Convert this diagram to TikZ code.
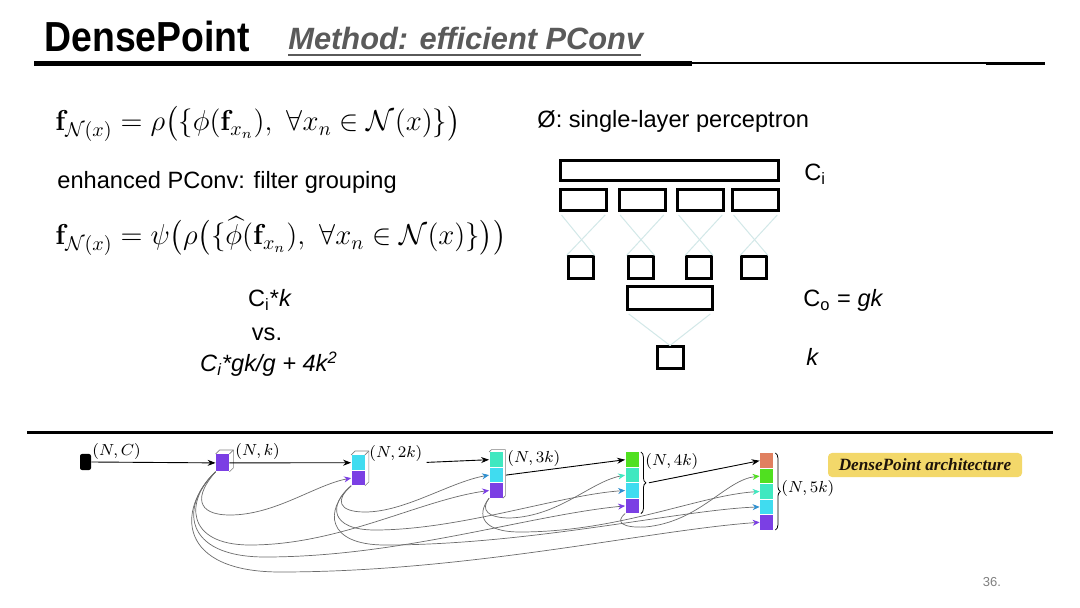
\documentclass[tikz,border=0pt]{standalone}
\usepackage[no-math]{fontspec}
\usepackage{amsmath,amssymb,graphicx}
\newfontfamily\arial{Liberation Sans}
\newfontfamily\timesf{Liberation Serif}
\usetikzlibrary{arrows.meta,decorations.pathreplacing}
\definecolor{cpurple}{HTML}{7B3FE4}
\definecolor{ccyan}{HTML}{40DCF0}
\definecolor{cteal}{HTML}{40E8C0}
\definecolor{cgreen}{HTML}{50E020}
\definecolor{csalmon}{HTML}{E08060}
\definecolor{cblue}{HTML}{3090D0}
\definecolor{cfaint}{HTML}{D2E8E8}
\definecolor{cyellow}{HTML}{F3D86A}
\definecolor{cgraytitle}{HTML}{5A5A5A}
\tikzset{
  lbl/.style={inner sep=0pt, anchor=base west},
  sans/.style={font=\arial\fontsize{11.8}{14}\selectfont},
  pbox/.style={draw=black, line width=1.5pt, inner sep=0pt, fill=white},
  faint/.style={draw=cfaint, line width=0.5pt},
  seg/.style={inner sep=0pt, minimum width=6.5pt, minimum height=7.3pt, draw=none},
  edge3d/.style={draw=gray, line width=0.3pt},
  arr/.style={line width=0.45pt, -{Stealth[length=4pt,width=3pt]}},
  dense/.style={draw=gray!85!black, line width=0.35pt},
  mlbl/.style={inner sep=0pt, anchor=west, font=\fontsize{8}{9}\selectfont},
}
\begin{document}
\begin{tikzpicture}[x=0.5pt,y=-0.5pt]
\fill[white] (0,0) rectangle (1080,608);
\useasboundingbox (0,0) rectangle (1080,608);

% ---------- title ----------
\node[lbl] (title) at (44,52) {\scalebox{0.89}[1]{\arial\bfseries\fontsize{21}{24}\selectfont DensePoint}};
\node[lbl, text=cgraytitle] (sub) at (288,50) {\arial\bfseries\itshape\fontsize{15.4}{18}\selectfont Method: efficient PConv};
\draw[cgraytitle, line width=0.9pt] (sub.base west) ++(0,5) -- ++(353,0);
\draw[black, line width=2.5pt] (34,64) -- (692,64);
\draw[black, line width=1pt] (692,63.5) -- (1045,63.5);
\draw[black, line width=1.5pt] (986,63.5) -- (1045,63.5);

% ---------- formulas ----------
\node[lbl] (eq1) at (55,131) {\fontsize{14.5}{17}\selectfont $\mathbf{f}_{\mathcal{N}(x)} = \rho\big(\{\phi(\mathbf{f}_{x_n}),\ \forall x_n \in \mathcal{N}(x)\}\big)$};
\node[lbl, sans] (enh) at (57,189) {enhanced PConv: filter grouping};
\node[lbl] (eq2) at (55,245) {\fontsize{14.5}{17}\selectfont $\mathbf{f}_{\mathcal{N}(x)} = \psi\big(\rho\big(\{\widehat{\phi}(\mathbf{f}_{x_n}),\ \forall x_n \in \mathcal{N}(x)\}\big)\big)$};

\node[inner sep=0pt, anchor=base, sans] (cmp1) at (270,307) {C\textsubscript{i}*\textit{k}};
\node[inner sep=0pt, anchor=base, sans] (cmp2) at (267,341) {vs.};
\node[inner sep=0pt, anchor=base, sans] (cmp3) at (269,372) {\itshape C\textsubscript{i}*gk/g + 4k\textsuperscript{2}};

% ---------- perceptron ----------
\node[lbl, sans] (slp) at (537,128) {Ø: single-layer perceptron};
\node[pbox, minimum width=109pt, minimum height=10pt] (big) at (669.5,171) {};
\foreach \i/\x in {1/583.5,2/642,3/700.5,4/755.5}
  \node[pbox, minimum width=23pt, minimum height=10.5pt] (g\i) at (\x,200) {};
\foreach \i/\x in {1/580.5,2/640.5,3/699,4/754}
  \node[pbox, minimum width=12.5pt, minimum height=11pt] (s\i) at (\x,268) {};
\node[pbox, minimum width=42.5pt, minimum height=11.5pt] (mid) at (669.5,298.5) {};
\node[pbox, minimum width=13pt, minimum height=11pt] (bot) at (670,358) {};
\foreach \i in {1,...,4}{
  \draw[faint, shorten <=2pt] (g\i.south west) -- (s\i.north east);
  \draw[faint, shorten <=2pt] (g\i.south east) -- (s\i.north west);
}
\draw[faint, shorten <=2pt] (mid.south west) -- (bot.north);
\draw[faint, shorten <=2pt] (mid.south east) -- (bot.north);
\node[lbl, sans] (ci) at (804,181) {C\textsubscript{i}};
\node[lbl, sans] (co) at (803,307) {C\textsubscript{o} = \textit{gk}};
\node[lbl, sans] (kk) at (806,366) {\textit{k}};

% ---------- separator ----------
\draw[black, line width=1.5pt] (27,433) -- (1053,433);

% ---------- architecture ----------
\node[fill=black, rounded corners=1pt, inner sep=0pt, minimum width=5.5pt, minimum height=8pt] (in) at (85.5,462) {};
\node[mlbl] (lin) at (92,451) {$(N,C)$};

\node[seg, fill=cpurple, minimum height=8.5pt, anchor=north] (n1) at (222.5,454) {};
\draw[edge3d] (n1.north west) -- ++(2pt,2pt) -| ([shift={(2pt,2pt)}]n1.south east) -- (n1.south east);
\draw[edge3d] (n1.north east) -- ++(2pt,2pt);
\node[mlbl] (l1) at (235,451) {$(N,k)$};

\node[seg, fill=ccyan, anchor=north] (n2a) at (358,455) {};
\node[seg, fill=cpurple, anchor=north] (n2b) at (n2a.south) {};
\draw[edge3d] (n2a.north west) -- ++(2pt,2pt) -| ([shift={(2pt,2pt)}]n2b.south east) -- (n2b.south east);
\draw[edge3d] (n2a.north east) -- ++(2pt,2pt);
\node[mlbl] (l2) at (369,454) {$(N,2k)$};

\node[seg, fill=cteal, anchor=north] (n3a) at (496,452) {};
\node[seg, fill=ccyan, anchor=north] (n3b) at (n3a.south) {};
\node[seg, fill=cpurple, anchor=north] (n3c) at (n3b.south) {};
\draw[edge3d] (n3a.north west) -- ++(1.2pt,1.2pt) -| ([shift={(1.2pt,1.2pt)}]n3c.south east) -- (n3c.south east);
\node[mlbl] (l3) at (507,458) {$(N,3k)$};

\node[seg, fill=cgreen, anchor=north] (n4a) at (632,452) {};
\node[seg, fill=cteal, anchor=north] (n4b) at (n4a.south) {};
\node[seg, fill=ccyan, anchor=north] (n4c) at (n4b.south) {};
\node[seg, fill=cpurple, anchor=north] (n4d) at (n4c.south) {};
\draw[line width=0.4pt, decorate, decoration={brace, amplitude=2.5pt}] ([xshift=1pt]n4a.north east) -- ([xshift=1pt]n4d.south east) coordinate[midway, xshift=4pt] (b4);
\node[mlbl] (l4) at (645,462) {$(N,4k)$};

\node[seg, fill=csalmon, anchor=north] (n5a) at (766.5,453) {};
\node[seg, fill=cgreen, anchor=north] (n5b) at (n5a.south) {};
\node[seg, fill=cteal, anchor=north] (n5c) at (n5b.south) {};
\node[seg, fill=ccyan, anchor=north] (n5d) at (n5c.south) {};
\node[seg, fill=cpurple, anchor=north] (n5e) at (n5d.south) {};
\draw[line width=0.4pt, decorate, decoration={brace, amplitude=2.5pt}] ([xshift=1pt]n5a.north east) -- ([xshift=1pt]n5e.south east) coordinate[midway, xshift=4pt] (b5);
\node[mlbl] (l5) at (781,488) {$(N,5k)$};

% main arrows
\draw[arr] (in.east) -- (n1.west);
\draw[arr] (n1.east) -- (n2a.west);
\draw[arr] ([xshift=2pt]l2.south east) -- (n3a.west);
\draw[arr] ([xshift=1.5pt]n3b.east) -- (n4a.west);
\draw[arr] (b4) -- (n5a.west);

% dense connections
\draw[dense, -{Stealth[length=3.5pt,width=3pt,color=cpurple]}] (n1.south west) .. controls (195,495) and (195,515) .. (230,515) .. controls (275,515) and (315,485) .. (n2b.west);
\draw[dense, -{Stealth[length=3.5pt,width=3pt,color=cpurple]}] (n1.south west) .. controls (185,500) and (185,545) .. (250,545) .. controls (340,545) and (420,500) .. (n3c.west);
\draw[dense, -{Stealth[length=3.5pt,width=3pt,color=cpurple]}] (n1.south west) .. controls (180,505) and (182,557) .. (265,557) .. controls (400,557) and (530,515) .. (n4d.west);
\draw[dense, -{Stealth[length=3.5pt,width=3pt,color=cpurple]}] (n1.south west) .. controls (176,510) and (178,572) .. (280,572) .. controls (470,572) and (650,530) .. (n5e.west);
\draw[dense, -{Stealth[length=3.5pt,width=3pt,color=cblue]}] (n2b.south west) .. controls (335,500) and (338,512) .. (365,512) .. controls (405,512) and (450,482) .. (n3b.west);
\draw[dense, -{Stealth[length=3.5pt,width=3pt,color=cblue]}] (n2b.south west) .. controls (328,505) and (330,530) .. (375,530) .. controls (460,530) and (560,495) .. (n4c.west);
\draw[dense, -{Stealth[length=3.5pt,width=3pt,color=cblue]}] (n2b.south west) .. controls (324,510) and (326,545) .. (385,545) .. controls (530,545) and (680,510) .. (n5d.west);
\draw[dense, -{Stealth[length=3.5pt,width=3pt,color=cteal]}] (n3c.south west) .. controls (480,510) and (488,518) .. (510,518) .. controls (560,516) and (590,482) .. (n4b.west);
\draw[dense, -{Stealth[length=3.5pt,width=3pt,color=cteal]}] (n3c.south west) .. controls (476,515) and (482,532) .. (520,532) .. controls (620,532) and (700,495) .. (n5c.west);
\draw[dense, -{Stealth[length=3.5pt,width=3pt,color=cgreen]}] (n4d.south west) .. controls (615,522) and (622,528) .. (645,527) .. controls (700,522) and (725,480) .. (n5b.west);

% legend box
\node[fill=cyellow, rounded corners=2pt, minimum width=97pt, minimum height=12pt, inner sep=0pt,
      font=\timesf\bfseries\itshape\fontsize{8.6}{10}\selectfont, text=black!85!brown] (arch) at (925,465) {DensePoint architecture};

\node[inner sep=0pt, anchor=base, text=gray, font=\arial\fontsize{6.5}{8}\selectfont] (pg) at (992,586) {36.};
\end{tikzpicture}
\end{document}
